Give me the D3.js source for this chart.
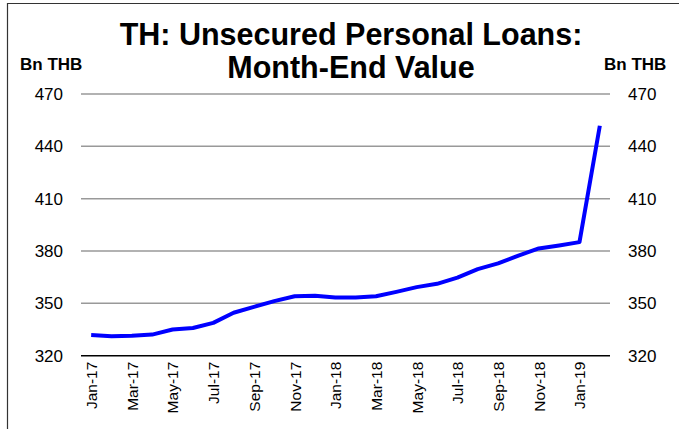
<!DOCTYPE html>
<html>
<head>
<meta charset="utf-8">
<script src="https://cdn.jsdelivr.net/npm/d3@7"></script>
<style>
  body { margin: 0; background: #fff; }
  text { font-family: "Liberation Sans", Arial, sans-serif; }
</style>
</head>
<body>
<div id="container"></div>
<script>
var months = ['Jan-17', 'Feb-17', 'Mar-17', 'Apr-17', 'May-17', 'Jun-17', 'Jul-17', 'Aug-17',
    'Sep-17', 'Oct-17', 'Nov-17', 'Dec-17', 'Jan-18', 'Feb-18', 'Mar-18', 'Apr-18', 'May-18',
    'Jun-18', 'Jul-18', 'Aug-18', 'Sep-18', 'Oct-18', 'Nov-18', 'Dec-18', 'Jan-19', 'Feb-19'];
var loans = [331.8, 331.2, 331.4, 332.1, 335.0, 335.9, 338.8, 344.6, 348.0, 351.3, 354.1, 354.3,
    353.3, 353.4, 354.1, 356.6, 359.3, 361.2, 364.8, 369.6, 372.9, 377.4, 381.5, 383.2, 385.1, 451.8];
var yTicks = [320, 350, 380, 410, 440, 470];

var width = 679,
    height = 429,
    plotLeft = 81,
    plotRight = 610,
    plotTop = 94,
    plotBottom = 355.7;

var svg = d3.select('#container')
    .append('svg')
    .attr('width', width)
    .attr('height', height);

// frame
svg.append('path')
    .attr('d', 'M7.5,' + height + 'V3.5H' + width)
    .attr('fill', 'none')
    .attr('stroke', '#333')
    .attr('stroke-width', 1.2);

var x = d3.scalePoint()
    .domain(months)
    .range([plotLeft, plotRight])
    .padding(0.5);

var y = d3.scaleLinear()
    .domain([320, 470])
    .range([plotBottom, plotTop]);

// gridlines
svg.append('g')
    .selectAll('line')
    .data(yTicks.slice(1))
    .enter()
    .append('line')
    .attr('x1', plotLeft)
    .attr('x2', plotRight)
    .attr('y1', function(d) { return y(d); })
    .attr('y2', function(d) { return y(d); })
    .attr('stroke', '#999')
    .attr('stroke-width', 1.5);

// left axis
var yl = svg.append('g')
    .attr('transform', 'translate(' + plotLeft + ',0)')
    .call(d3.axisLeft(y).tickValues(yTicks).tickSize(0).tickPadding(18));
yl.select('.domain').remove();
yl.selectAll('text').attr('font-size', 17).attr('fill', '#000');

// right axis
var yr = svg.append('g')
    .attr('transform', 'translate(' + plotRight + ',0)')
    .call(d3.axisRight(y).tickValues(yTicks).tickSize(0).tickPadding(18));
yr.select('.domain').remove();
yr.selectAll('text').attr('font-size', 17).attr('fill', '#000');

// bottom axis
var xa = svg.append('g')
    .attr('transform', 'translate(0,' + plotBottom + ')')
    .call(d3.axisBottom(x)
        .tickValues(months.filter(function(d, i) { return i % 2 === 0; }))
        .tickSize(0));
xa.select('.domain')
    .attr('d', 'M' + plotLeft + ',0H' + plotRight)
    .attr('stroke', '#000')
    .attr('stroke-width', 1.5);
xa.selectAll('text')
    .attr('font-size', 15.5)
    .attr('fill', '#000')
    .attr('transform', 'rotate(-90)')
    .attr('text-anchor', 'end')
    .attr('x', -6)
    .attr('y', 0)
    .attr('dy', '0.35em');

// series line
svg.append('path')
    .datum(loans)
    .attr('fill', 'none')
    .attr('stroke', '#0000ff')
    .attr('stroke-width', 4)
    .attr('stroke-linejoin', 'round')
    .attr('d', d3.line()
        .x(function(d, i) { return x(months[i]); })
        .y(function(d) { return y(d); }));

// titles
svg.append('text')
    .attr('x', 351)
    .attr('y', 45)
    .attr('text-anchor', 'middle')
    .attr('font-size', 30.5)
    .attr('font-weight', 'bold')
    .text('TH: Unsecured Personal Loans:');
svg.append('text')
    .attr('x', 351)
    .attr('y', 78)
    .attr('text-anchor', 'middle')
    .attr('font-size', 30.5)
    .attr('font-weight', 'bold')
    .text('Month-End Value');

svg.append('text')
    .attr('x', 20)
    .attr('y', 70)
    .attr('font-size', 17)
    .attr('font-weight', 'bold')
    .text('Bn THB');
svg.append('text')
    .attr('x', 604)
    .attr('y', 70)
    .attr('font-size', 17)
    .attr('font-weight', 'bold')
    .text('Bn THB');
</script>
</body>
</html>
